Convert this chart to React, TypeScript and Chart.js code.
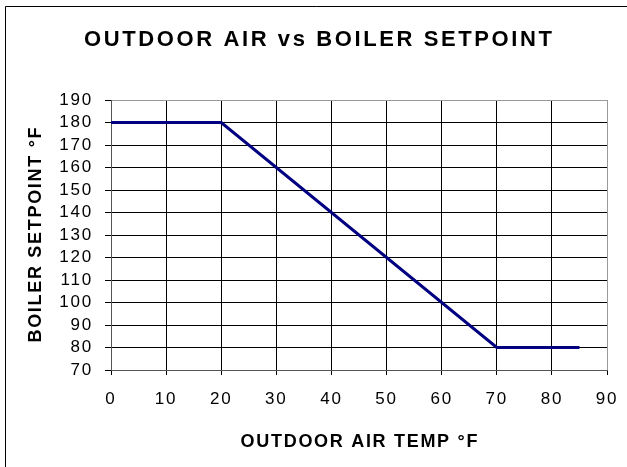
import React, { useEffect, useRef } from "react";
import { Chart, registerables } from "chart.js";

Chart.register(...registerables);

const titleText = "OUTDOOR AIR vs BOILER SETPOINT";
const xTitle = "OUTDOOR AIR TEMP °F";
const yTitle = "BOILER SETPOINT °F";
const outdoorTemps = [0, 20, 70, 85];
const setpoints = [180, 180, 80, 80];
const xMin = 0, xMax = 90, xStep = 10;
const yMin = 70, yMax = 190, yStep = 10;

const FONT = "'Liberation Sans', Arial, sans-serif";

const textPlugin = {
  id: "texts",
  beforeDraw(chart: any) {
    const ctx = chart.ctx;
    ctx.save();
    ctx.fillStyle = "#fff";
    ctx.fillRect(0, 0, chart.width, chart.height);
    ctx.strokeStyle = "#000";
    ctx.lineWidth = 1;
    ctx.beginPath();
    ctx.moveTo(5.5, chart.height);
    ctx.lineTo(5.5, 6.5);
    ctx.lineTo(chart.width, 6.5);
    ctx.stroke();
    ctx.restore();
    ctx.letterSpacing = "1.8px";
  },
  afterDraw(chart: any) {
    const ctx = chart.ctx;
    const ca = chart.chartArea;
    ctx.save();
    ctx.fillStyle = "#000";
    ctx.textAlign = "center";
    ctx.textBaseline = "alphabetic";
    (ctx as any).letterSpacing = "2.6px";
    ctx.font = `bold 22px ${FONT}`;
    ctx.fillText(titleText, 318 + 1.3, 46);
    (ctx as any).letterSpacing = "1.7px";
    ctx.font = `bold 18px ${FONT}`;
    ctx.fillText(xTitle, (ca.left + ca.right) / 2 + 0.85, 447);
    ctx.translate(41, (ca.top + ca.bottom) / 2);
    ctx.rotate(-Math.PI / 2);
    ctx.fillText(yTitle, 0.85, 0);
    ctx.restore();
    (ctx as any).letterSpacing = "0px";
  },
};

export default function App() {
  const ref = useRef<HTMLCanvasElement>(null);
  useEffect(() => {
    if (!ref.current) return;
    const chart = new Chart(ref.current, {
      type: "line",
      data: {
        datasets: [
          {
            data: outdoorTemps.map((x, i) => ({ x, y: setpoints[i] })),
            borderColor: "#000080",
            borderWidth: 3,
            pointRadius: 0,
            tension: 0,
            fill: false,
          },
        ],
      },
      options: {
        responsive: false,
        animation: false,
        devicePixelRatio: 1,
        layout: { padding: { top: 100, right: 20, left: 0, bottom: 0 } },
        plugins: { legend: { display: false }, title: { display: false }, tooltip: { enabled: false } },
        scales: {
          x: {
            type: "linear",
            min: xMin,
            max: xMax,
            afterFit: (s: any) => { s.height = 97; s.paddingRight = 0; s.paddingLeft = 0; },
            ticks: {
              stepSize: xStep,
              autoSkip: false,
              color: "#000",
              font: { family: FONT, size: 17 },
              padding: 14,
              maxRotation: 0,
            },
            grid: {
              color: (c: any) => (c.tick && c.tick.value === xMax ? "#999" : c.tick && c.tick.value === xMin ? "#555" : "#000"),
              tickColor: "#000",
              tickLength: 5,
              lineWidth: 1,
            },
            border: { color: "#555", width: 1 },
          },
          y: {
            type: "linear",
            min: yMin,
            max: yMax,
            afterFit: (s: any) => { s.width = 111; s.paddingTop = 0; s.paddingBottom = 0; },
            ticks: {
              stepSize: yStep,
              autoSkip: false,
              color: "#000",
              font: { family: FONT, size: 17 },
              padding: 12,
            },
            grid: {
              color: (c: any) => (c.tick && c.tick.value === yMax ? "#999" : c.tick && c.tick.value === yMin ? "#555" : "#000"),
              tickColor: "#000",
              tickLength: 6,
              lineWidth: 1,
            },
            border: { color: "#555", width: 1 },
          },
        },
      },
      plugins: [textPlugin],
    } as any);
    return () => chart.destroy();
  }, []);
  return (
    <div style={{ position: "fixed", left: 0, top: 0, width: 627, height: 467, background: "#fff" }}>
      <canvas ref={ref} width={627} height={467} style={{ display: "block", width: 627, height: 467 }} />
    </div>
  );
}
